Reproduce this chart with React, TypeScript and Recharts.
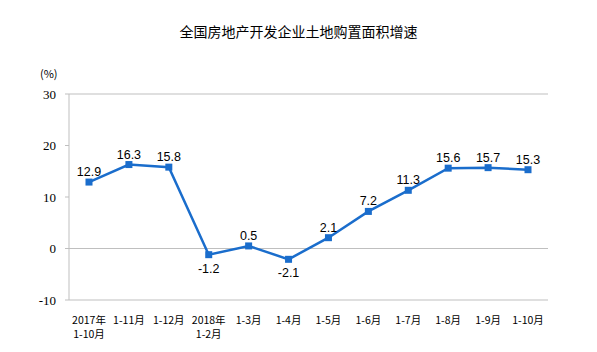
import { LineChart, Line, XAxis, YAxis, ReferenceLine, LabelList } from "recharts";

const periods = [
  "2017年\n1-10月",
  "1-11月",
  "1-12月",
  "2018年\n1-2月",
  "1-3月",
  "1-4月",
  "1-5月",
  "1-6月",
  "1-7月",
  "1-8月",
  "1-9月",
  "1-10月",
];
const growth = [12.9, 16.3, 15.8, -1.2, 0.5, -2.1, 2.1, 7.2, 11.3, 15.6, 15.7, 15.3];
const yTicks = [-10, 0, 10, 20, 30];

const data = periods.map((p, i) => ({ period: p, value: growth[i] }));

const AXIS = "#bfbfbf";
const BLUE = "#1a6dcc";

function PeriodTick({ x, y, payload }: any) {
  const lines = String(payload.value).split("\n");
  return (
    <text x={x} y={y} textAnchor="middle" fontSize={10.5} fill="#000" fontFamily="'Noto Sans CJK SC', sans-serif">
      {lines.map((l, i) => (
        <tspan key={i} x={x} dy={i === 0 ? 0 : 14}>
          {l}
        </tspan>
      ))}
    </text>
  );
}

function ValueLabel({ x, y, value }: any) {
  const below = value < 0;
  return (
    <text
      x={x}
      y={below ? y + 18 : y - 6}
      textAnchor="middle"
      fontSize={12.5}
      fill="#000"
      fontFamily="'Liberation Sans', Arial, sans-serif"
    >
      {value}
    </text>
  );
}

function SquareDot({ cx, cy }: any) {
  return <rect x={cx - 3.5} y={cy - 3.5} width={7} height={7} fill={BLUE} />;
}

export default function App() {
  return (
    <div style={{ position: "absolute", left: 0, top: 0, width: 597, height: 352, background: "#fff" }}>
      <div
        style={{
          position: "absolute",
          top: 21,
          width: 597,
          textAlign: "center",
          fontSize: 14,
          fontFamily: "'Noto Sans CJK SC', sans-serif",
          color: "#000",
        }}
      >
        全国房地产开发企业土地购置面积增速
      </div>
      <div
        style={{
          position: "absolute",
          top: 65,
          left: 40,
          fontSize: 11,
          fontFamily: "'Noto Sans CJK SC', sans-serif",
          color: "#000",
        }}
      >
        (%)
      </div>
      <LineChart width={597} height={352} data={data} margin={{ top: 94, right: 49, bottom: 12, left: 29 }}>
        <XAxis
          dataKey="period"
          axisLine={{ stroke: AXIS }}
          tickLine={false}
          tick={<PeriodTick />}
          interval={0}
          height={40}
          tickMargin={18}
          padding={{ left: 20, right: 20 }}
        />
        <YAxis
          domain={[-10, 30]}
          ticks={yTicks}
          width={40}
          axisLine={{ stroke: AXIS }}
          tickLine={{ stroke: AXIS }}
          tickSize={4}
          tickMargin={9}
          tick={{ fontSize: 13, fill: "#000", fontFamily: "'Liberation Serif', serif" }}
        />
        <YAxis yAxisId="r" orientation="right" domain={[-10, 30]} width={0} axisLine={{ stroke: AXIS }} tick={false} tickLine={false} />
        <ReferenceLine y={30} stroke={AXIS} />
        <ReferenceLine y={0} stroke={AXIS} />
        <Line
          dataKey="value"
          stroke={BLUE}
          strokeWidth={2.5}
          dot={<SquareDot />}
          activeDot={false}
          isAnimationActive={false}
        >
          <LabelList dataKey="value" content={<ValueLabel />} />
        </Line>
      </LineChart>
    </div>
  );
}
